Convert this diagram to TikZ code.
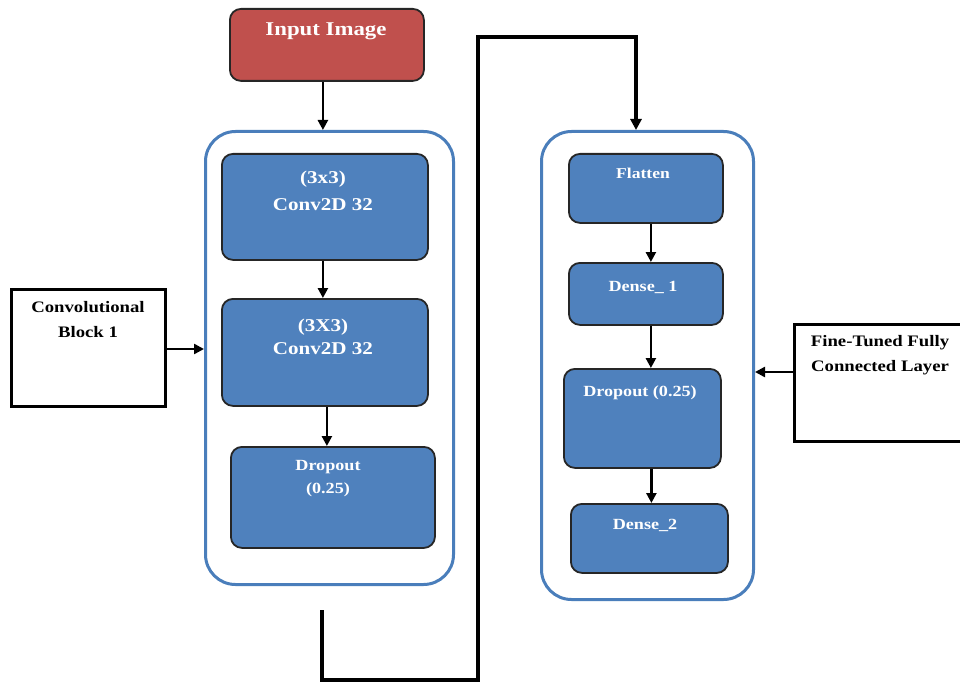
\documentclass[tikz,border=0pt]{standalone}
\usepackage{fontspec}
\setmainfont{Liberation Serif}[FakeStretch=1.17]
\usetikzlibrary{arrows.meta}
\definecolor{boxblue}{HTML}{4F81BD}
\definecolor{lineblue}{HTML}{4A7EBB}
\definecolor{inred}{HTML}{C0504D}
\tikzset{
  x=1pt,y=-1pt,
  bluebox/.style={draw=black!85, line width=1.8pt, rounded corners=11pt, fill=boxblue, anchor=north west, inner sep=0pt},
  redbox/.style={draw=black!85, line width=1.8pt, rounded corners=11pt, fill=inred, anchor=north west, inner sep=0pt},
  container/.style={draw=lineblue, line width=3pt, rounded corners=30pt, anchor=north west, inner sep=0pt},
  sidebox/.style={draw=black, line width=3.4pt, anchor=north west, inner sep=0pt},
  wtxt/.style={text=white, font=\bfseries, align=center, inner sep=0pt},
  btxt/.style={text=black, font=\bfseries, align=center, inner sep=0pt},
  arr/.style={draw=black, line width=2.4pt, -{Triangle[length=10pt,width=10pt]}},
  bigarr/.style={draw=black, line width=3.8pt, -{Triangle[length=11pt,width=11pt]}},
}
\begin{document}
\begin{tikzpicture}
\useasboundingbox (0,0) rectangle (960,687);
% Input
\node[redbox, minimum width=194pt, minimum height=72pt] (inp) at (229,8) {};
\node[wtxt, font=\bfseries\fontsize{19.5}{22}\selectfont] (inpt) at (326,31) {Input Image};
% Left container
\node[container, minimum width=248pt, minimum height=453pt] (lc) at (204,130) {};
\node[bluebox, minimum width=206pt, minimum height=106pt] (c1) at (221,153) {};
\node[wtxt, font=\bfseries\fontsize{18}{27}\selectfont] (c1t) at (323,191) {(3x3)\\Conv2D 32};
\node[bluebox, minimum width=206pt, minimum height=107pt] (c2) at (221,298) {};
\node[wtxt, font=\bfseries\fontsize{18}{23}\selectfont] (c2t) at (323,337) {(3X3)\\Conv2D 32};
\node[bluebox, minimum width=204pt, minimum height=101pt] (d1) at (230,446) {};
\node[wtxt, font=\bfseries\fontsize{15.5}{23}\selectfont] (d1t) at (328,479) {Dropout\\(0.25)};
% Right container
\node[container, minimum width=212pt, minimum height=468pt] (rc) at (540,130) {};
\node[bluebox, minimum width=154pt, minimum height=69pt] (fl) at (568,153) {};
\node[wtxt, font=\bfseries\fontsize{15}{17}\selectfont] (flt) at (643,173) {Flatten};
\node[bluebox, minimum width=154pt, minimum height=62pt] (de1) at (568,262) {};
\node[wtxt, font=\bfseries\fontsize{15.5}{17}\selectfont] (de1t) at (643,287) {Dense\_ 1};
\node[bluebox, minimum width=157pt, minimum height=99pt] (dr2) at (563,368) {};
\node[wtxt, font=\bfseries\fontsize{15.5}{17}\selectfont] (dr2t) at (640,393) {Dropout (0.25)};
\node[bluebox, minimum width=157pt, minimum height=69pt] (de2) at (570,503) {};
\node[wtxt, font=\bfseries\fontsize{15.5}{17}\selectfont] (de2t) at (645,525) {Dense\_2};
% Side boxes
\node[sidebox, minimum width=154pt, minimum height=117pt] (cb) at (10,288) {};
\node[btxt, font=\bfseries\fontsize{16}{25}\selectfont] (cbt) at (88,320) {Convolutional\\Block 1};
\node[sidebox, minimum width=175pt, minimum height=117pt] (ft) at (793,323) {};
\node[btxt, font=\bfseries\fontsize{16}{25}\selectfont] (ftt) at (880,355) {Fine-Tuned Fully\\Connected Layer};
% Arrows
\draw[arr] ([xshift=-4pt]inp.south) -- ([xshift=-4pt]inp.south |- lc.north);
\draw[arr] ([xshift=-2pt]c1.south) -- ([xshift=-2pt]c1.south |- c2.north);
\draw[arr] ([xshift=2pt]c2.south) -- ([xshift=2pt]c2.south |- d1.north);
\draw[arr] ([xshift=5pt]fl.south) -- ([xshift=5pt]fl.south |- de1.north);
\draw[arr] ([xshift=5pt]de1.south) -- ([xshift=5pt]de1.south |- dr2.north);
\draw[arr] ([xshift=9pt]dr2.south) -- ([xshift=9pt]dr2.south |- de2.north);
\draw[arr] (cb.east |- 0,349) -- (lc.west |- 0,349);
\draw[arr] (ft.west |- 0,372) -- (rc.east |- 0,372);
% Long connector
\coordinate (s0) at (322,610);
\coordinate (s1) at (322,680);
\coordinate (s2) at (478,680);
\coordinate (s3) at (478,37);
\coordinate (s4) at (636,37);
\draw[bigarr, line join=miter] (s0) -- (s1) -- (s2) -- (s3) -- (s4) -- (s4 |- rc.north);
\end{tikzpicture}
\end{document}
